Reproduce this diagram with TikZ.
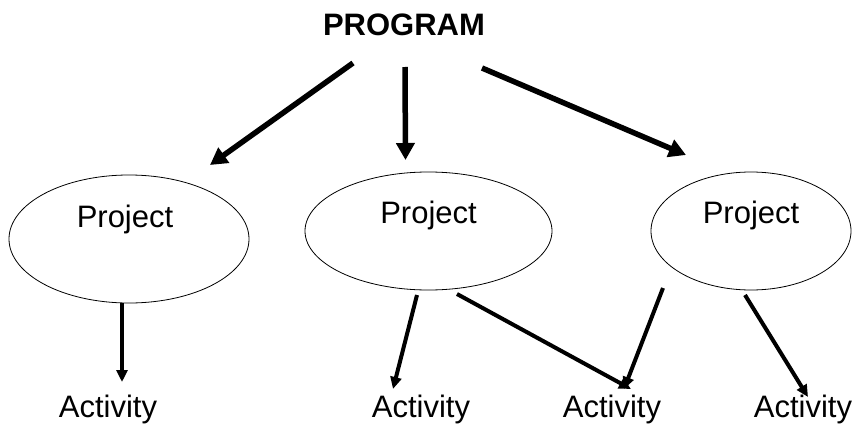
\documentclass[tikz,border=0pt]{standalone}
\usepackage{fontspec}
\setmainfont{Liberation Sans}
\usetikzlibrary{arrows.meta,shapes.geometric}

\tikzset{
  lbl/.style={font=\fontsize{31}{36}\selectfont, anchor=base, inner sep=0pt},
  proj/.style={draw, line width=0.8pt, ellipse, inner sep=0pt},
  bigarrow/.style={line width=5.5pt, -{Triangle[length=17pt,width=18pt]}},
  smallarrow/.style={line width=4pt, -{Triangle[length=12pt,width=11pt]}},
}

\begin{document}
\begin{tikzpicture}[x=1pt,y=-1pt]
  \useasboundingbox (0,0) rectangle (854,423);

  % title
  \node[lbl, font=\fontsize{31}{36}\selectfont\bfseries] (prog) at (404,35) {PROGRAM};

  % project ellipses
  \node[proj, minimum width=240pt, minimum height=128pt] (p1) at (129,239) {};
  \node[proj, minimum width=247pt, minimum height=118pt] (p2) at (428.5,231) {};
  \node[proj, minimum width=200pt, minimum height=118pt] (p3) at (751,231) {};
  \node[lbl] (t1) at (125,227) {Project};
  \node[lbl] (t2) at (428.5,223.5) {Project};
  \node[lbl] (t3) at (751,223) {Project};

  % activities
  \node[lbl] (a1) at (108,417) {Activity};
  \node[lbl] (a2) at (421,417) {Activity};
  \node[lbl] (a3) at (612,417) {Activity};
  \node[lbl] (a4) at (803,417) {Activity};

  % arrow end points
  \coordinate (s1) at (353,63);   \coordinate (e1) at (210,165);
  \coordinate (s2) at (405,67);   \coordinate (e2) at (405.5,160);
  \coordinate (s3) at (482,68);   \coordinate (e3) at (686,155);

  \coordinate (u1) at (122,303);  \coordinate (v1) at (122,382);
  \coordinate (u2) at (417,295);  \coordinate (v2) at (393,389);
  \coordinate (u3) at (457,294);  \coordinate (v3) at (631,389);
  \coordinate (u4) at (663,288);  \coordinate (v4) at (624,389);
  \coordinate (u5) at (745,295);  \coordinate (v5) at (808,397);

  % program to projects
  \draw[bigarrow] (s1) -- (e1);
  \draw[bigarrow] (s2) -- (e2);
  \draw[bigarrow] (s3) -- (e3);

  % projects to activities
  \draw[smallarrow] (u1) -- (v1);
  \draw[smallarrow] (u2) -- (v2);
  \draw[smallarrow] (u3) -- (v3);
  \draw[smallarrow] (u4) -- (v4);
  \draw[smallarrow] (u5) -- (v5);
\end{tikzpicture}
\end{document}
